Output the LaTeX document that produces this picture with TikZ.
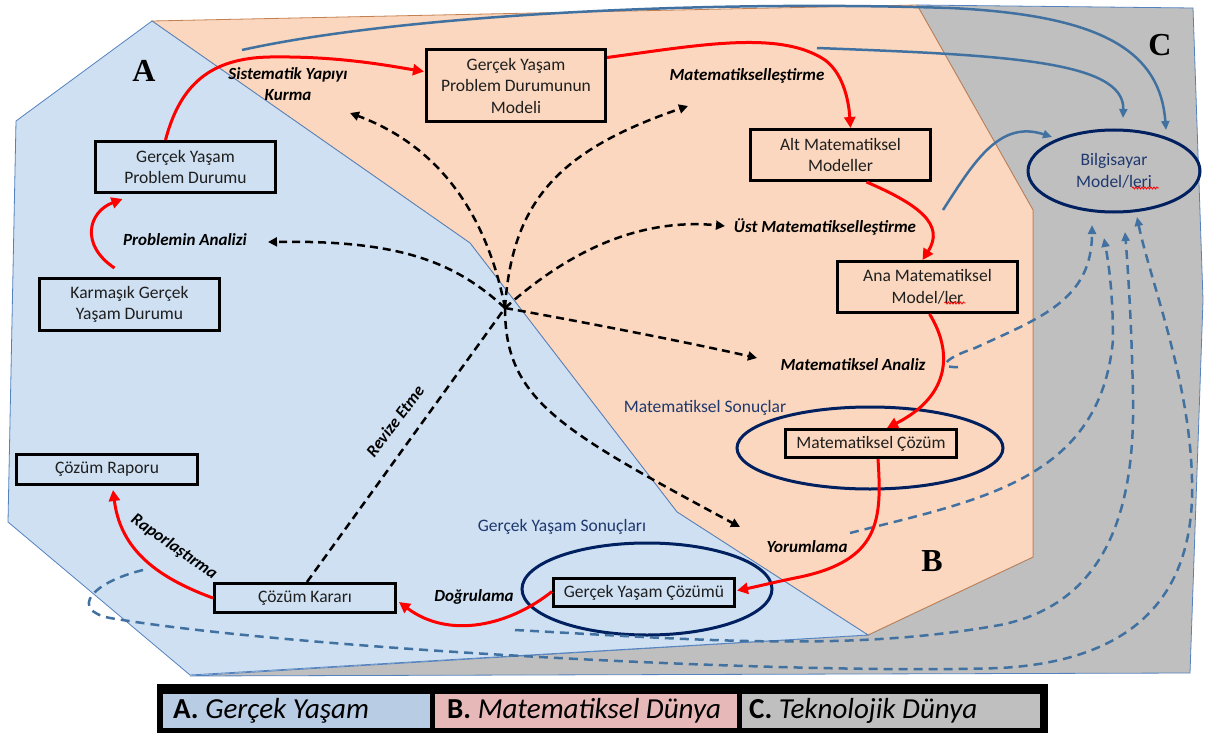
\documentclass[tikz,border=0pt]{standalone}
\usepackage{fontspec}
\setmainfont{Carlito}
\newfontfamily\letterfont{Liberation Serif}
\usetikzlibrary{arrows.meta,calc,shapes.geometric,decorations.pathmorphing}
\definecolor{regA}{RGB}{206,224,242}
\definecolor{regB}{RGB}{250,215,190}
\definecolor{regC}{RGB}{191,191,191}
\definecolor{edgeA}{RGB}{84,130,190}
\definecolor{edgeB}{RGB}{196,128,80}
\definecolor{steel}{RGB}{65,113,160}
\definecolor{navy}{RGB}{0,32,96}
\definecolor{navytext}{RGB}{31,56,110}
\definecolor{legA}{RGB}{184,204,228}
\definecolor{legB}{RGB}{230,185,184}
\definecolor{legC}{RGB}{191,191,191}
\begin{document}
\begin{tikzpicture}[x=1pt,y=-1pt,
 box/.style={draw=black,line width=3pt,align=center,inner sep=0pt,font=\fontsize{17.5}{21.5}\selectfont,text=black!88},
 lbl/.style={align=center,inner sep=0pt,font=\fontsize{17}{21}\selectfont\bfseries\itshape},
 navytxt/.style={text=navytext,font=\fontsize{17.5}{21.5}\selectfont},
 ring/.style={draw=navy,line width=3pt,ellipse,inner sep=0pt},
 bigletter/.style={font=\fontsize{32}{36}\selectfont\letterfont\bfseries},
 redarr/.style={draw=red,line width=3pt,-{Triangle[length=11pt,width=11pt]}},
 blkdash/.style={draw=black,line width=2.5pt,dash pattern=on 8pt off 5pt,-{Triangle[length=9pt,width=9pt]}},
 steelline/.style={draw=steel,line width=2.5pt,-{Triangle[length=9pt,width=8pt]}},
 steeldash/.style={steelline,dash pattern=on 9pt off 6pt},
 wavy/.style={draw=red,line width=0.8pt,decorate,decoration={snake,amplitude=1pt,segment length=3pt}},
 legcell/.style={inner sep=0pt,anchor=north west,minimum height=34pt},
 legtext/.style={inner sep=0pt,anchor=west,font=\fontsize{29}{33}\selectfont}
]
\useasboundingbox (0,0) rectangle (1205,733);
% regions
\filldraw[fill=regC,draw=edgeA,line width=0.8pt] (917,5) -- (1193,8) -- (1203,300) -- (1190,673) -- (190,676) -- (868,635) -- (1033,557) -- (1033,210) -- cycle;
\filldraw[fill=regB,draw=edgeB,line width=0.8pt] (152,21) -- (917,5) -- (1033,210) -- (1033,557) -- (868,635) -- (677,512) -- (470,243) -- cycle;
\filldraw[fill=regA,draw=edgeA,line width=0.8pt] (152,21) -- (16,121) -- (8,522) -- (190,675) -- (868,635) -- (677,512) -- (470,243) -- cycle;
% region letters
\node[bigletter] (lA) at (144,71) {A};
\node[bigletter] (lB) at (932,561) {B};
\node[bigletter] (lC) at (1160,45) {C};
% ellipses
\node[ring,minimum width=266pt,minimum height=82pt] (e6) at (870,448) {};
\node[ring,minimum width=250pt,minimum height=92pt] (e7) at (647,589) {};
\node[ring,minimum width=172pt,minimum height=82pt,navytxt,align=center] (bil) at (1114,171) {Bilgisayar\\Model/leri};
% boxes
\node[box,minimum width=180pt,minimum height=51pt] (b1) at (185.5,167) {Gerçek Yaşam\\Problem Durumu};
\node[box,minimum width=180pt,minimum height=52pt] (b2) at (129.5,304.5) {Karmaşık Gerçek\\Yaşam Durumu};
\node[box,minimum width=179pt,minimum height=72pt] (b3) at (516,85.5) {Gerçek Yaşam\\Problem Durumunun\\Modeli};
\node[box,minimum width=180pt,minimum height=51pt] (b4) at (840.5,155) {Alt Matematiksel\\Modeller};
\node[box,minimum width=180pt,minimum height=51pt] (b5) at (927.5,287) {Ana Matematiksel\\Model/ler};
\node[box,minimum width=171pt,minimum height=28pt] (b6) at (871,443.5) {Matematiksel Çözüm};
\node[box,minimum width=181pt,minimum height=28pt] (b7) at (644,592.5) {Gerçek Yaşam Çözümü};
\node[box,minimum width=181pt,minimum height=29pt] (b8) at (305,598) {Çözüm Kararı};
\node[box,minimum width=181pt,minimum height=30pt] (b9) at (107,469.5) {Çözüm Raporu};
% spell-check underlines
\draw[wavy] ($(b5.center)+(17,16)$) -- ($(b5.center)+(38,16)$);
\draw[wavy] ($(bil.center)+(18,17)$) -- ($(bil.center)+(45,17)$);
% navy captions
\node[navytxt] (ms) at (705,408) {Matematiksel Sonuçlar};
\node[navytxt] (gs) at (562,527) {Gerçek Yaşam Sonuçları};
% process labels
\node[lbl] (sis) at (288,84) {Sistematik Yapıyı\\Kurma};
\node[lbl] (pa) at (185,240) {Problemin Analizi};
\node[lbl] (mat) at (747,76) {Matematikselleştirme};
\node[lbl] (ust) at (825,227) {Üst Matematikselleştirme};
\node[lbl] (ma) at (853,365) {Matematiksel Analiz};
\node[lbl] (yor) at (807,547) {Yorumlama};
\node[lbl] (dog) at (474,597) {Doğrulama};
\node[lbl,rotate=53] (rev) at (395,421) {Revize Etme};
\node[lbl,rotate=-35] (rap) at (174,547) {Raporlaştırma};
% technology connectors (blue)
\coordinate (s1a) at (242,50);
\coordinate (s2a) at (817,48);
\coordinate (s3a) at (943,210);
\coordinate (f3) at (515,630);
\coordinate (f4) at (143,570);
\draw[steelline] (s1a) .. controls (400,15) and (700,0) .. (950,8) .. controls (1100,15) and (1160,50) .. ($(bil.center)+(52,-41)$);
\draw[steelline] (s2a) .. controls (1000,55) and (1125,60) .. ($(bil.center)+(9,-53)$);
\draw[steelline] (s3a) .. controls (975,160) and (1000,120) .. ($(bil.center)+(-62,-34)$);
\draw[steeldash] ($(ma.center)+(105,2)$) .. controls (940,368) and (940,360) .. (975,348) .. controls (1040,318) and (1092,300) .. ($(bil.center)+(-22,54)$);
\draw[steeldash] ($(yor.center)+(43,-14)$) .. controls (980,500) and (1100,480) .. (1113,340) .. controls (1113,290) and (1108,260) .. ($(bil.center)+(-10,67)$);
\draw[steeldash] (f3) .. controls (700,640) and (850,652) .. (1000,625) .. controls (1100,605) and (1135,520) .. (1133,400) .. controls (1132,330) and (1128,270) .. ($(bil.center)+(11,61)$);
\draw[steeldash] (f4) .. controls (90,583) and (70,610) .. (110,618) .. controls (300,650) and (800,675) .. (1000,668) .. controls (1150,660) and (1195,580) .. (1192,480) .. controls (1190,380) and (1150,280) .. ($(bil.center)+(23,46)$);
% black dashed connectors
\coordinate (hub) at (505,308);
\draw[blkdash] (hub) .. controls (490,230) and (450,150) .. ($(sis.center)+(62,29)$);
\draw[blkdash] (hub) .. controls (512,200) and (560,150) .. ($(mat.center)+(-59,30)$);
\draw[blkdash] (hub) .. controls (570,250) and (640,218) .. ($(ust.center)+(-100,-1)$);
\draw[blkdash] (hub) .. controls (455,262) and (400,240) .. ($(pa.center)+(83,2)$);
\draw[blkdash] (hub) .. controls (600,325) and (700,345) .. ($(ma.center)+(-96,-7)$);
\draw[blkdash] (hub) .. controls (505,400) and (560,430) .. ($(yor.center)+(-67,-20)$);
\draw[blkdash,-] ($(b8.north)+(2,0)$) -- (hub);
% red process arrows
\draw[redarr] ($(b2.north)+(-15,-9)$) .. controls (80,245) and (88,212) .. ($(b1.south)+(-63,5)$);
\draw[redarr] ($(b1.north)+(-20,0)$) .. controls (180,85) and (210,58) .. (270,57) .. controls (340,56) and (390,66) .. ($(b3.west)+(-1,-14)$);
\draw[redarr] ($(b3.east)+(0,-28)$) .. controls (700,45) and (780,30) .. (825,60) .. controls (845,75) and (849,105) .. ($(b4.north)+(10,0)$);
\draw[redarr] ($(b4.south)+(26,0)$) .. controls (920,205) and (945,225) .. ($(b5.north)+(-5,0)$);
\draw[redarr] ($(b5.south)+(2,0)$) .. controls (952,350) and (952,395) .. ($(b6.north)+(16,0)$);
\draw[redarr] ($(b6.south)+(7,0)$) .. controls (882,520) and (880,560) .. (800,577) .. controls (775,582) and (755,587) .. ($(b7.east)+(1,-2)$);
\draw[redarr] ($(b7.west)+(0,-1)$) .. controls (510,625) and (450,640) .. ($(b8.east)+(2,4)$);
\draw[redarr] (b8.west) .. controls (150,575) and (120,545) .. ($(b9.south)+(6,4)$);
% legend
\fill[black] (157,684) rectangle (1048,733);
\node[legcell,fill=legA,minimum width=267pt] (lgA) at (163,694) {};
\node[legcell,fill=legB,minimum width=302pt] (lgB) at (435,694) {};
\node[legcell,fill=legC,minimum width=298pt] (lgC) at (742,694) {};
\node[legtext] (tA) at ($(lgA.west)+(10,0)$) {\textbf{A.} \textit{Gerçek Yaşam}};
\node[legtext] (tB) at ($(lgB.west)+(12,0)$) {\textbf{B.} \textit{Matematiksel Dünya}};
\node[legtext] (tC) at ($(lgC.west)+(7,0)$) {\textbf{C.} \textit{Teknolojik Dünya}};
\end{tikzpicture}
\end{document}
